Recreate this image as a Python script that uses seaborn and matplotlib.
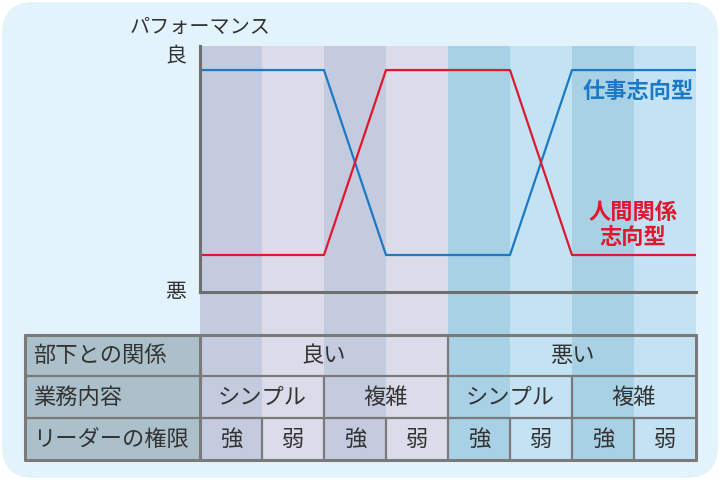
import numpy as np
import pandas as pd
import seaborn as sns
import matplotlib.pyplot as plt
from matplotlib.patches import FancyBboxPatch, Rectangle

sns.set_theme(style="white")
plt.rcParams['font.family'] = ['Noto Sans CJK JP', 'DejaVu Sans']

# data
row_titles = ['部下との関係', '業務内容', 'リーダーの権限']
relations = ['良い', '悪い']
tasks = ['シンプル', '複雑', 'シンプル', '複雑']
authority = ['強', '弱', '強', '弱', '強', '弱', '強', '弱']
boundary = [0, 1, 2, 3, 4, 5, 6, 7, 8]
task_oriented = [1, 1, 1, 0, 0, 0, 1, 1, 1]
people_oriented = [0, 0, 0, 1, 1, 1, 0, 0, 0]

col_colors = ['#c5cbdf', '#dcdbea', '#c5cbdf', '#dcdbea',
              '#a9d1e6', '#c3e2f3', '#a9d1e6', '#c3e2f3']
blue = '#1a7ac6'
red = '#e0182d'
text_c = '#333333'
grid_c = '#7a7a7a'

W, H = 720, 480
fig = plt.figure(figsize=(7.2, 4.8), dpi=100)
fig.patch.set_facecolor('white')

# background axes in pixel coordinates
bg = fig.add_axes([0, 0, 1, 1])
bg.set_xlim(0, W)
bg.set_ylim(H, 0)
bg.axis('off')
bg.add_patch(FancyBboxPatch((2, 2), W - 4, H - 4, boxstyle="round,pad=0,rounding_size=32",
                            fc='#e3f3fc', ec='none'))

x0, cw = 200, 62
top, t0, r1, r2, t1 = 46, 335, 376, 418, 460
for i, c in enumerate(col_colors):
    bg.add_patch(Rectangle((x0 + i * cw, top), cw, t1 - top, fc=c, ec='none'))

# table
bg.add_patch(Rectangle((25, t0), x0 - 25, t1 - t0, fc='#abc0cb', ec='none'))
right = x0 + 8 * cw
lw = 1.6
for y in [t0, r1, r2, t1]:
    bg.plot([25, right], [y, y], color=grid_c, lw=lw if y in (r1, r2) else 2.2)
for x in [25, x0, right]:
    bg.plot([x, x], [t0, t1], color=grid_c, lw=2.2)
for i in range(1, 8):
    x = x0 + i * cw
    if i % 4 == 0:
        bg.plot([x, x], [r1 if False else t0, t1], color=grid_c, lw=lw)
    elif i % 2 == 0:
        bg.plot([x, x], [r1, t1], color=grid_c, lw=lw)
    else:
        bg.plot([x, x], [r2, t1], color=grid_c, lw=lw)

row_y = [(t0 + r1) / 2, (r1 + r2) / 2, (r2 + t1) / 2]
for y, t in zip(row_y, row_titles):
    bg.text(33, y, t, fontsize=16, color=text_c, va='center', ha='left')
for i, t in enumerate(relations):
    bg.text(x0 + (i * 4 + 2) * cw, row_y[0], t, fontsize=16, color=text_c, va='center', ha='center')
for i, t in enumerate(tasks):
    bg.text(x0 + (i * 2 + 1) * cw, row_y[1], t, fontsize=16, color=text_c, va='center', ha='center')
for i, t in enumerate(authority):
    bg.text(x0 + (i + 0.5) * cw, row_y[2], t, fontsize=16, color=text_c, va='center', ha='center')

bg.text(200, 27, 'パフォーマンス', fontsize=14.5, color=text_c, ha='center', va='center')
bg.text(176, 56, '良', fontsize=15, color=text_c, ha='center', va='center')
bg.text(176, 292, '悪', fontsize=15, color=text_c, ha='center', va='center')
bg.text(694, 91, '仕事志向型', fontsize=16, color=blue, ha='right', va='center', fontweight='bold')
bg.text(633, 225, '人間関係\n志向型', fontsize=16, color=red, ha='center', va='center',
        fontweight='bold', linespacing=1.15)

# line plot axes
ax = fig.add_axes([x0 / W, (H - 292) / H, 8 * cw / W, (292 - top) / H])
ax.patch.set_alpha(0)
df = pd.DataFrame({'x': boundary * 2,
                   'y': task_oriented + people_oriented,
                   'type': ['task'] * len(boundary) + ['people'] * len(boundary)})
sns.lineplot(data=df, x='x', y='y', hue='type', palette={'task': blue, 'people': red},
             ax=ax, legend=False, linewidth=1.6)
ax.set_xlim(0, 8)
ax.set_ylim(-0.2, 1.13)
ax.set_xticks([])
ax.set_yticks([])
ax.set_xlabel('')
ax.set_ylabel('')
sns.despine(ax=ax)
for s in ['left', 'bottom']:
    ax.spines[s].set_color('#6e6e6e')
    ax.spines[s].set_linewidth(2.2)

fig.savefig('out.png', dpi=100)
